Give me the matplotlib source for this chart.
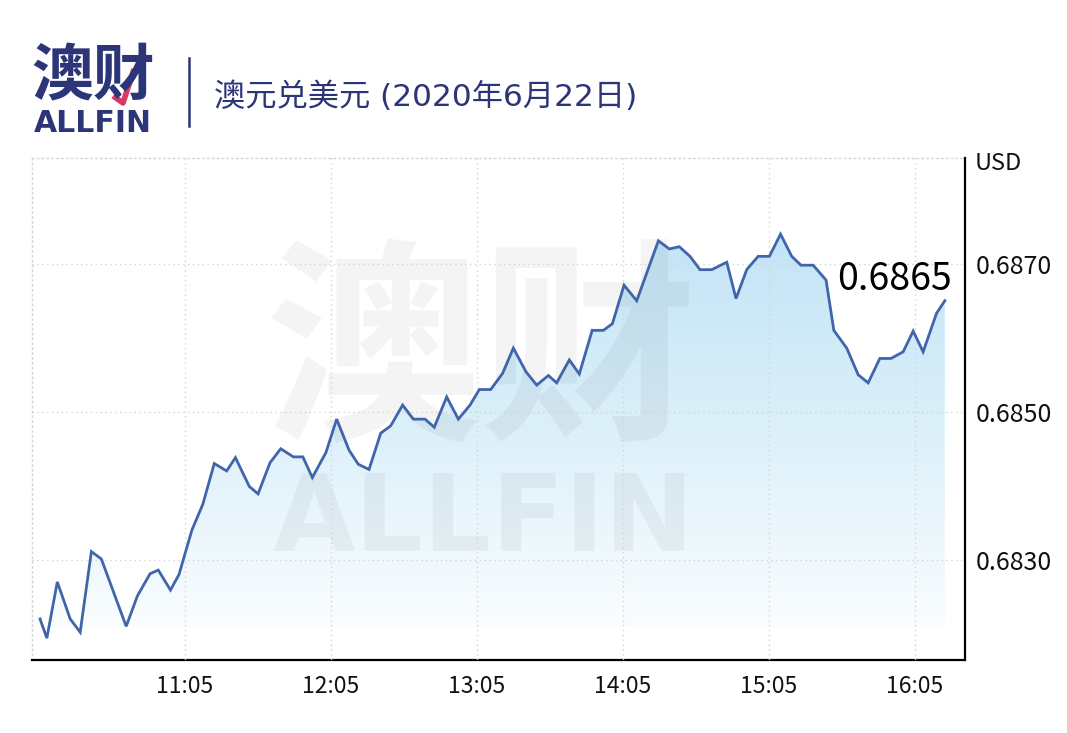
import matplotlib
matplotlib.use("Agg")
import matplotlib.pyplot as plt
import numpy as np
from matplotlib.colors import LinearSegmentedColormap
from matplotlib.patches import Polygon

plt.rcParams['font.family'] = ['Noto Sans CJK SC', 'DejaVu Sans']

# minutes since 10:00
minutes = [5.4, 8.2, 12.5, 17.8, 21.9, 26.5, 30.6, 40.8, 45.4, 50.6,
           54.0, 59.0, 62.5, 67.8, 72.3, 77.0, 82.1, 85.7, 91.4, 95.0,
           99.9, 104.3, 109.5, 113.4, 117.3, 122.9, 127.3, 132.4, 136.2, 140.6,
           145.4, 149.5, 154.4, 158.8, 163.6, 167.4, 172.5, 177.3, 182.1, 185.9,
           190.6, 195.5, 199.9, 205.1, 209.5, 214.3, 217.7, 222.9, 227.0, 232.3,
           236.9, 240.6, 245.4, 250.6, 259.5, 264.0, 268.1, 272.5, 276.6, 281.4,
           287.6, 291.4, 295.8, 300.5, 305.1, 309.7, 314.3, 318.1, 323.1, 328.4,
           331.6, 336.9, 341.6, 345.7, 350.5, 355.1, 360.1, 364.2, 368.3, 373.8,
           377.2]
rate = [0.68221, 0.68195, 0.68271, 0.68221, 0.68203, 0.68312, 0.68302, 0.68211, 0.68252, 0.68282,
        0.68287, 0.68260, 0.68281, 0.68341, 0.68376, 0.68431, 0.68421, 0.68439, 0.68400, 0.68390,
        0.68432, 0.68451, 0.68440, 0.68440, 0.68412, 0.68446, 0.68491, 0.68449, 0.68430, 0.68423,
        0.68472, 0.68482, 0.68510, 0.68491, 0.68491, 0.68480, 0.68521, 0.68491, 0.68510, 0.68531,
        0.68531, 0.68553, 0.68587, 0.68555, 0.68537, 0.68550, 0.68540, 0.68571, 0.68552, 0.68611,
        0.68611, 0.68620, 0.68672, 0.68651, 0.68732, 0.68721, 0.68724, 0.68711, 0.68693, 0.68693,
        0.68703, 0.68654, 0.68693, 0.68711, 0.68711, 0.68741, 0.68711, 0.68699, 0.68699, 0.68679,
        0.68611, 0.68587, 0.68551, 0.68540, 0.68573, 0.68573, 0.68582, 0.68610, 0.68582, 0.68634,
        0.68651]

xticks = [65, 125, 185, 245, 305, 365]
xlabels = ['11:05', '12:05', '13:05', '14:05', '15:05', '16:05']
yticks = [0.6830, 0.6850, 0.6870]
ylabels = ['0.6830', '0.6850', '0.6870']
last_label = '0.6865'
title = '澳元兑美元 (2020年6月22日)'

navy = '#2b3577'
line_c = '#4065ab'

fig = plt.figure(figsize=(10.67, 7.33), dpi=100)
ax = fig.add_axes([32/1067, 1-660/733, 933/1067, 502/733])

x0, x1 = 2.1, 385.5
y0, y1 = 0.681655, 0.688439
ax.set_xlim(x0, x1)
ax.set_ylim(y0, y1)

# gradient area under the line
base = 0.6821
cmap = LinearSegmentedColormap.from_list('fill', ['#fafdff', '#dcf0fa', '#c2e4f6'])
grad = np.linspace(0, 1, 256).reshape(-1, 1)
im = ax.imshow(grad, cmap=cmap, aspect='auto', origin='lower',
               extent=[minutes[0], minutes[-1], base, max(rate)], zorder=1)
verts = [(minutes[0], base)] + list(zip(minutes, rate)) + [(minutes[-1], base)]
poly = Polygon(verts, closed=True, facecolor='none', edgecolor='none')
ax.add_patch(poly)
im.set_clip_path(poly)

# watermark
ax.text(0.482, 0.60, '澳财', transform=ax.transAxes, ha='center', va='center',
        fontsize=156, fontweight='heavy', color='black', alpha=0.045, zorder=2)
ax.text(0.484, 0.275, 'ALLFIN', transform=ax.transAxes, ha='center', va='center',
        fontsize=77, fontweight='bold', color='black', alpha=0.045, zorder=2,
        family=['DejaVu Sans'])

ax.plot(minutes, rate, color=line_c, lw=2.0, zorder=4, solid_joinstyle='miter')

ax.set_xticks(xticks)
ax.set_xticklabels(xlabels)
ax.set_yticks(yticks)
ax.set_yticklabels(ylabels)
ax.yaxis.tick_right()
ax.tick_params(axis='both', length=0, colors='#111111')
ax.tick_params(axis='x', labelsize=16.5, pad=11)
ax.tick_params(axis='y', labelsize=18, pad=8)
ax.grid(True, color='#d4d4d4', linestyle=(0, (1, 2.5)), lw=1.0, zorder=3)
ax.set_axisbelow(False)

for s in ['top', 'left']:
    ax.spines[s].set_color('#d4d4d4')
    ax.spines[s].set_linestyle((0, (1, 2.5)))
    ax.spines[s].set_linewidth(1.0)
for s in ['right', 'bottom']:
    ax.spines[s].set_color('black')
    ax.spines[s].set_linewidth(1.6)

ax.text(minutes[-1] + 3.0, 0.68680, last_label, ha='right', va='center',
        fontsize=27, color='black', zorder=5)

fig.text(975/1067, 1-164/733, 'USD', ha='left', va='center', fontsize=17, color='#111111')

# header
fig.text(93/1067, 1-77/733, '澳财', ha='center', va='center', fontsize=44.5,
         fontweight='heavy', color=navy)
fig.text(93/1067, 1-124/733, 'ALLFIN', ha='center', va='center', fontsize=21.5,
         fontweight='bold', color=navy, family=['DejaVu Sans'])
fig.add_artist(plt.Line2D([113/1067, 123/1067, 134/1067], [1-96/733, 1-103/733, 1-69/733],
                          color='#d83864', lw=4, solid_capstyle='butt'))
fig.add_artist(plt.Line2D([189/1067, 189/1067], [1-58/733, 1-126/733], color=navy, lw=1.8))
fig.text(214/1067, 1-97/733, title, ha='left', va='center', fontsize=22.5, color=navy,
         family=['DejaVu Sans', 'Noto Sans CJK SC'])

fig.savefig('out.png', dpi=100, facecolor='white')
